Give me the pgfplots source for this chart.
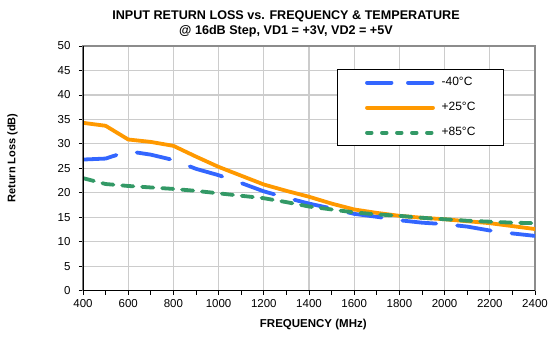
\documentclass[border=0pt]{standalone}
\usepackage{fontspec}
\setmainfont{Liberation Sans}
\usepackage{pgfplots}
\pgfplotsset{compat=1.18}

\definecolor{cBlue}{HTML}{3366FF}
\definecolor{cOrange}{HTML}{FF9900}
\definecolor{cGreen}{HTML}{339966}
\definecolor{cGrid}{HTML}{CCCCCC}
\definecolor{cFrame}{HTML}{8C8C8C}

% legend samples with their own dash spacing
\pgfplotsset{
  blueleg/.style={legend image code/.code={\draw[##1, dash pattern=on 24.5bp off 16.5bp] (0bp,0bp) -- (66bp,0bp);}},
  greenleg/.style={legend image code/.code={\draw[##1, dash pattern=on 4.6bp off 10.4bp] (0bp,0bp) -- (66bp,0bp);}},
}

% Return loss (dB) versus frequency (MHz)
\pgfplotstableread{
f     rl
400   26.8
500   27.0
600   28.5
700   27.8
800   26.7
900   24.9
1000  23.6
1100  22.0
1200  20.3
1300  19.0
1400  17.8
1500  16.8
1600  15.7
1700  15.1
1800  14.4
1900  13.9
2000  13.6
2100  13.1
2200  12.3
2300  11.7
2400  11.2
}\tempMinus

\pgfplotstableread{
f     rl
400   34.3
500   33.7
600   30.9
700   30.4
800   29.6
900   27.4
1000  25.3
1100  23.5
1200  21.7
1300  20.4
1400  19.2
1500  17.8
1600  16.6
1700  15.9
1800  15.3
1900  14.9
2000  14.6
2100  14.2
2200  13.8
2300  13.2
2400  12.6
}\tempRoom

\pgfplotstableread{
f     rl
400   23.0
500   21.8
600   21.4
700   21.1
800   20.8
900   20.4
1000  19.9
1100  19.4
1200  18.9
1300  18.1
1400  17.2
1500  16.6
1600  16.0
1700  15.6
1800  15.3
1900  14.9
2000  14.6
2100  14.3
2200  14.1
2300  13.9
2400  13.8
}\tempHot

\begin{document}
\begin{tikzpicture}[x=1bp,y=1bp]
\useasboundingbox (-83,-46.3) rectangle (467,290.7);
\begin{axis}[
  at={(0,0)}, anchor=south west,
  scale only axis,
  width=452bp, height=244.7bp,
  xmin=400, xmax=2400, ymin=0, ymax=50,
  xtick={400,600,...,2400},
  minor xtick={500,700,...,2300},
  ytick={0,5,...,50},
  tick align=outside,
  xtick pos=left, ytick pos=left,
  major tick length=4bp, minor tick length=4bp,
  tick style={black, line width=0.8bp},
  grid=major,
  major grid style={draw=cGrid, line width=1.2bp},
  axis line style={draw=cFrame, line width=1.4bp},
  /pgf/number format/assume math mode=true,
  /pgf/number format/set thousands separator={},
  ticklabel style={font=\fontsize{11.5bp}{13bp}\selectfont},
  xticklabel style={yshift=-1bp},
  yticklabel style={xshift=-5bp},
  legend style={
    at={(rel axis cs:0.5613,0.9048)}, anchor=north west,
    draw=black, line width=0.8bp,
    font=\fontsize{12bp}{14bp}\selectfont,
    inner xsep=28bp, inner ysep=7bp,
    row sep=13bp, column sep=6.7bp,
    nodes={inner sep=0pt, text height=9bp, text depth=3bp},
  },
  legend cell align=left,
  legend image code/.code={\draw[#1] (0bp,0bp) -- (66bp,0bp);},
]
\addplot[cBlue, line width=3.8bp, line cap=round, dash pattern=on 34bp off 21bp, blueleg]
  table[x=f,y=rl] {\tempMinus};
\addlegendentry{-40°C}
\addplot[cOrange, line width=3.8bp, line cap=round] table[x=f,y=rl] {\tempRoom};
\addlegendentry{+25°C}
\addplot[cGreen, line width=3.8bp, line cap=round, dash pattern=on 11.2bp off 8.8bp, greenleg]
  table[x=f,y=rl] {\tempHot};
\addlegendentry{+85°C}
% dark left and bottom axis lines
\draw[black, line width=1.2bp] (rel axis cs:0,1) -- (rel axis cs:0,0) -- (rel axis cs:1,0);
\end{axis}
\node[font=\bfseries\fontsize{12.6bp}{14bp}\selectfont] at (203,274.2) {INPUT RETURN LOSS vs. FREQUENCY \& TEMPERATURE};
\node[font=\bfseries\fontsize{12.6bp}{14bp}\selectfont] at (203,259.5) {@ 16dB Step, VD1 = +3V, VD2 = +5V};
\node[font=\bfseries\fontsize{11bp}{13bp}\selectfont, rotate=90] at (-70.5,132.7) {Return Loss (dB)};
\node[font=\bfseries\fontsize{11.5bp}{13bp}\selectfont] at (230.3,-34.3) {FREQUENCY (MHz)};
\end{tikzpicture}
\end{document}
